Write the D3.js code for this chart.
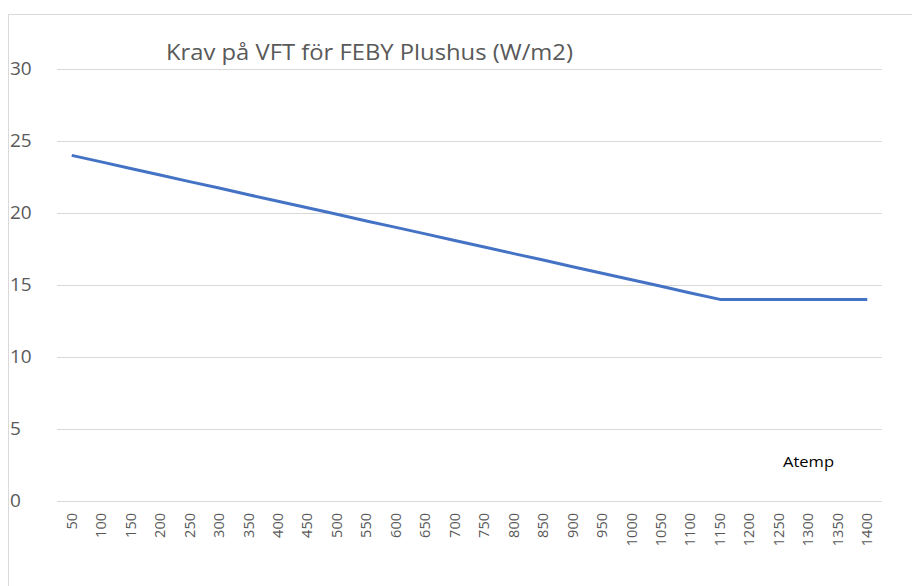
<!DOCTYPE html>
<html>
<head>
<meta charset="utf-8">
<script src="https://cdn.jsdelivr.net/npm/d3@7"></script>
<style>
  body { margin: 0; background: #fff; }
  text { font-family: "Open Sans", sans-serif; }
</style>
</head>
<body>
<svg id="chart" width="912" height="586"></svg>
<script>
var atemp = [50, 100, 150, 200, 250, 300, 350, 400, 450, 500, 550, 600, 650, 700,
             750, 800, 850, 900, 950, 1000, 1050, 1100, 1150, 1200, 1250, 1300, 1350, 1400]
var krav = [24, 23.55, 23.09, 22.64, 22.18, 21.73, 21.27, 20.82, 20.36, 19.91, 19.45, 19, 18.55, 18.09,
            17.64, 17.18, 16.73, 16.27, 15.82, 15.36, 14.91, 14.45, 14, 14, 14, 14, 14, 14]
var yTicks = [0, 5, 10, 15, 20, 25, 30]

var title = "Krav på VFT för FEBY Plushus (W/m2)"
var xTitle = "Atemp"

var svg = d3.select("#chart")

// outer chart border, runs off the right and bottom edges
svg.append("rect")
    .attr("x", 8.5).attr("y", 14.5)
    .attr("width", 920).attr("height", 600)
    .attr("fill", "none").attr("stroke", "#d9d9d9").attr("stroke-width", 1)

var plotLeft = 57, plotRight = 882, plotTop = 69, plotBottom = 501

var x = d3.scaleBand().domain(atemp).range([plotLeft, plotRight])
var y = d3.scaleLinear().domain([0, 30]).range([plotBottom, plotTop])

// gridlines
svg.append("g")
  .selectAll("line")
  .data(yTicks)
  .join("line")
    .attr("x1", plotLeft).attr("x2", plotRight)
    .attr("y1", d => Math.round(y(d)) + 0.5)
    .attr("y2", d => Math.round(y(d)) + 0.5)
    .attr("stroke", "#d9d9d9").attr("stroke-width", 1)

// y tick labels, left aligned
svg.append("g")
  .selectAll("text")
  .data(yTicks)
  .join("text")
    .attr("x", 10)
    .attr("y", d => y(d) + 6)
    .attr("font-size", 19)
    .attr("fill", "#595959")
    .text(d => d)

// x tick labels, rotated
svg.append("g")
  .selectAll("text")
  .data(atemp)
  .join("text")
    .attr("transform", d => "translate(" + (x(d) + x.bandwidth() / 2 + 5) + ",513) rotate(-90)")
    .attr("text-anchor", "end")
    .attr("font-size", 14.5)
    .attr("fill", "#595959")
    .text(d => d)

var line = d3.line()
    .x((d, i) => x(atemp[i]) + x.bandwidth() / 2)
    .y(d => y(d))

svg.append("path")
    .datum(krav)
    .attr("d", line)
    .attr("fill", "none")
    .attr("stroke", "#4472c4")
    .attr("stroke-width", 3)
    .attr("stroke-linejoin", "round")

svg.append("text")
    .attr("x", 166).attr("y", 60)
    .attr("font-size", 21)
    .attr("fill", "#595959")
    .attr("textLength", 407)
    .attr("lengthAdjust", "spacingAndGlyphs")
    .text(title)

svg.append("text")
    .attr("x", 783).attr("y", 467)
    .attr("font-size", 14)
    .attr("fill", "#000")
    .attr("textLength", 51)
    .attr("lengthAdjust", "spacingAndGlyphs")
    .text(xTitle)
</script>
</body>
</html>
